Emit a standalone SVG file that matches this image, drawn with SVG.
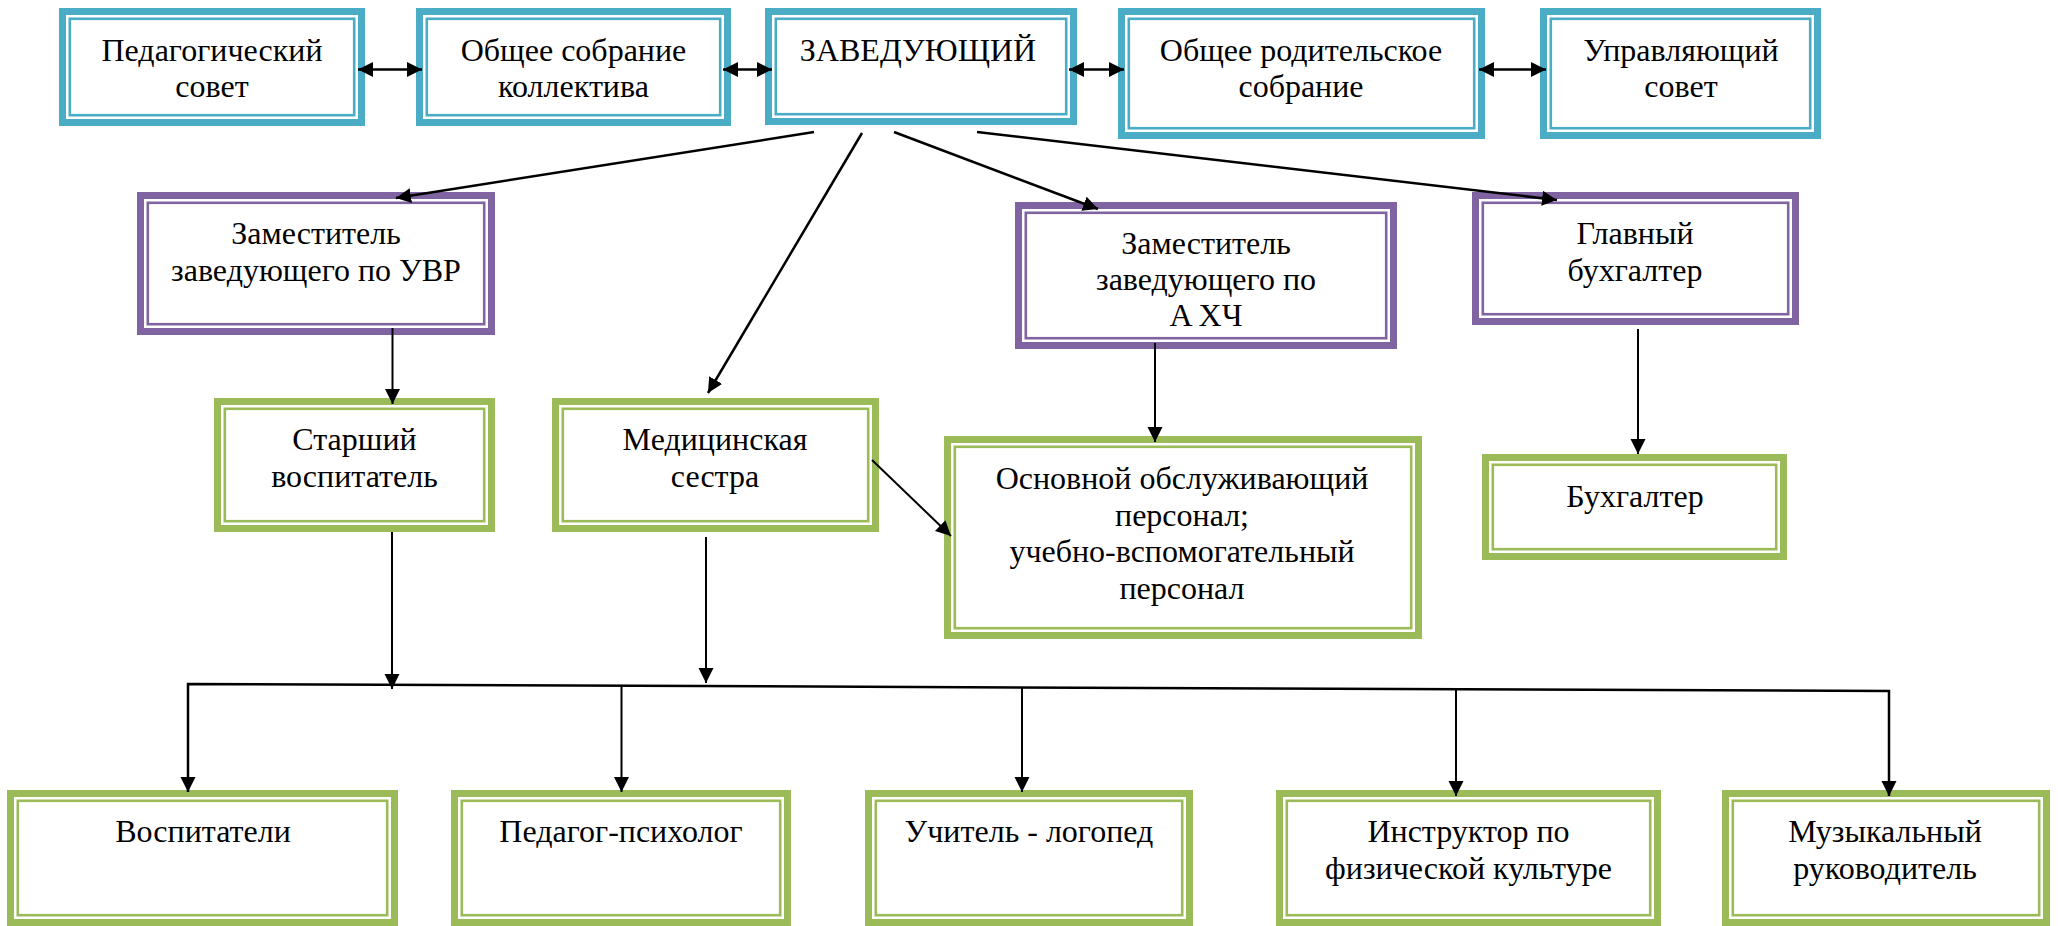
<svg xmlns="http://www.w3.org/2000/svg" width="2058" height="926" viewBox="0 0 2058 926">
<style>
.bg{fill:#fff;stroke:none}
.ob{fill:none;stroke-width:7}
.ib{fill:none;stroke-width:2.6}
.blue{stroke:#4BACC6}
.purple{stroke:#8064A2}
.green{stroke:#9BBB59}
text{font-family:"Liberation Serif","Times New Roman",serif;font-size:32px;fill:#000;text-anchor:middle}
.c{fill:none;stroke:#000;stroke-width:2.5}
.cv{fill:none;stroke:#000;stroke-width:2}
</style>
<defs>
<marker id="ah" markerUnits="userSpaceOnUse" markerWidth="16" markerHeight="16" viewBox="0 0 16 16" refX="15" refY="7.5" orient="auto-start-reverse">
<path d="M0,0 L15,7.5 L0,15 z" fill="#000"/>
</marker>
</defs>

<g id="n1">
<rect class="bg" x="59" y="8" width="306" height="118"/>
<rect class="ob blue" x="62.5" y="11.5" width="299" height="111"/>
<rect class="ib blue" x="69.8" y="18.8" width="284.4" height="96.4"/>
<text x="212" y="61">Педагогический</text>
<text x="212" y="97">совет</text>
</g>
<g id="n2">
<rect class="bg" x="416" y="8" width="315" height="118"/>
<rect class="ob blue" x="419.5" y="11.5" width="308" height="111"/>
<rect class="ib blue" x="426.8" y="18.8" width="293.4" height="96.4"/>
<text x="573.5" y="61">Общее собрание</text>
<text x="573.5" y="97">коллектива</text>
</g>
<g id="n3">
<rect class="bg" x="765" y="8" width="312" height="117"/>
<rect class="ob blue" x="768.5" y="11.5" width="305" height="110"/>
<rect class="ib blue" x="775.8" y="18.8" width="290.4" height="95.4"/>
<text x="918" y="61">ЗАВЕДУЮЩИЙ</text>
</g>
<g id="n4">
<rect class="bg" x="1118" y="8" width="367" height="131"/>
<rect class="ob blue" x="1121.5" y="11.5" width="360" height="124"/>
<rect class="ib blue" x="1128.8" y="18.8" width="345.4" height="109.4"/>
<text x="1301" y="61">Общее родительское</text>
<text x="1301" y="97">собрание</text>
</g>
<g id="n5">
<rect class="bg" x="1540" y="8" width="281" height="131"/>
<rect class="ob blue" x="1543.5" y="11.5" width="274" height="124"/>
<rect class="ib blue" x="1550.8" y="18.8" width="259.4" height="109.4"/>
<text x="1681" y="61">Управляющий</text>
<text x="1681" y="97">совет</text>
</g>

<g id="n6">
<rect class="bg" x="137" y="192" width="358" height="143"/>
<rect class="ob purple" x="140.5" y="195.5" width="351" height="136"/>
<rect class="ib purple" x="147.8" y="202.8" width="336.4" height="121.4"/>
<text x="316" y="244">Заместитель</text>
<text x="316" y="281">заведующего по УВР</text>
</g>
<g id="n7">
<rect class="bg" x="1015" y="202" width="382" height="147"/>
<rect class="ob purple" x="1018.5" y="205.5" width="375" height="140"/>
<rect class="ib purple" x="1025.8" y="212.8" width="360.4" height="125.4"/>
<text x="1206" y="254">Заместитель</text>
<text x="1206" y="290">заведующего по</text>
<text x="1206" y="326">А<tspan dx="6">ХЧ</tspan></text>
</g>
<g id="n8">
<rect class="bg" x="1472" y="192" width="327" height="133"/>
<rect class="ob purple" x="1475.5" y="195.5" width="320" height="126"/>
<rect class="ib purple" x="1482.8" y="202.8" width="305.4" height="111.4"/>
<text x="1635" y="244">Главный</text>
<text x="1635" y="281">бухгалтер</text>
</g>

<g id="n9">
<rect class="bg" x="214" y="398" width="281" height="134"/>
<rect class="ob green" x="217.5" y="401.5" width="274" height="127"/>
<rect class="ib green" x="224.8" y="408.8" width="259.4" height="112.4"/>
<text x="354.5" y="450">Старший</text>
<text x="354.5" y="487">воспитатель</text>
</g>
<g id="n10">
<rect class="bg" x="552" y="398" width="327" height="134"/>
<rect class="ob green" x="555.5" y="401.5" width="320" height="127"/>
<rect class="ib green" x="562.8" y="408.8" width="305.4" height="112.4"/>
<text x="715" y="450">Медицинская</text>
<text x="715" y="487">сестра</text>
</g>
<g id="n11">
<rect class="bg" x="944" y="436" width="478" height="203"/>
<rect class="ob green" x="947.5" y="439.5" width="471" height="196"/>
<rect class="ib green" x="954.8" y="446.8" width="456.4" height="181.4"/>
<text x="1182" y="489">Основной обслуживающий</text>
<text x="1182" y="526">персонал;</text>
<text x="1182" y="562">учебно-вспомогательный</text>
<text x="1182" y="599">персонал</text>
</g>
<g id="n12">
<rect class="bg" x="1482" y="454" width="305" height="106"/>
<rect class="ob green" x="1485.5" y="457.5" width="298" height="99"/>
<rect class="ib green" x="1492.8" y="464.8" width="283.4" height="84.4"/>
<text x="1635" y="507">Бухгалтер</text>
</g>

<g id="n13">
<rect class="bg" x="7" y="790" width="391" height="136"/>
<rect class="ob green" x="10.5" y="793.5" width="384" height="129"/>
<rect class="ib green" x="17.8" y="800.8" width="369.4" height="114.4"/>
<text x="203" y="842">Воспитатели</text>
</g>
<g id="n14">
<rect class="bg" x="451" y="790" width="340" height="136"/>
<rect class="ob green" x="454.5" y="793.5" width="333" height="129"/>
<rect class="ib green" x="461.8" y="800.8" width="318.4" height="114.4"/>
<text x="621" y="842">Педагог-психолог</text>
</g>
<g id="n15">
<rect class="bg" x="865" y="790" width="328" height="136"/>
<rect class="ob green" x="868.5" y="793.5" width="321" height="129"/>
<rect class="ib green" x="875.8" y="800.8" width="306.4" height="114.4"/>
<text x="1029" y="842">Учитель - логопед</text>
</g>
<g id="n16">
<rect class="bg" x="1276" y="790" width="385" height="136"/>
<rect class="ob green" x="1279.5" y="793.5" width="378" height="129"/>
<rect class="ib green" x="1286.8" y="800.8" width="363.4" height="114.4"/>
<text x="1468.5" y="842">Инструктор по</text>
<text x="1468.5" y="879">физической культуре</text>
</g>
<g id="n17">
<rect class="bg" x="1722" y="790" width="328" height="136"/>
<rect class="ob green" x="1725.5" y="793.5" width="321" height="129"/>
<rect class="ib green" x="1732.8" y="800.8" width="306.4" height="114.4"/>
<text x="1885" y="842">Музыкальный</text>
<text x="1885" y="879">руководитель</text>
</g>

<g id="connectors">
<line class="c" x1="358" y1="69.5" x2="422" y2="69.5" marker-start="url(#ah)" marker-end="url(#ah)"/>
<line class="c" x1="723" y1="69.5" x2="772" y2="69.5" marker-start="url(#ah)" marker-end="url(#ah)"/>
<line class="c" x1="1069" y1="69.5" x2="1124" y2="69.5" marker-start="url(#ah)" marker-end="url(#ah)"/>
<line class="c" x1="1479" y1="69.5" x2="1546" y2="69.5" marker-start="url(#ah)" marker-end="url(#ah)"/>
<line class="c" x1="814" y1="132" x2="396" y2="198" marker-end="url(#ah)"/>
<line class="c" x1="862" y1="133" x2="708" y2="393" marker-end="url(#ah)"/>
<line class="c" x1="894" y1="132" x2="1098" y2="209" marker-end="url(#ah)"/>
<line class="c" x1="977" y1="132" x2="1557" y2="200" marker-end="url(#ah)"/>
<line class="cv" x1="392.5" y1="328" x2="392.5" y2="404" marker-end="url(#ah)"/>
<line class="cv" x1="1155" y1="343" x2="1155" y2="442" marker-end="url(#ah)"/>
<line class="cv" x1="1638" y1="329" x2="1638" y2="454" marker-end="url(#ah)"/>
<line class="cv" x1="872" y1="460" x2="951" y2="536" marker-end="url(#ah)"/>
<line class="cv" x1="392" y1="532" x2="392" y2="689" marker-end="url(#ah)"/>
<line class="cv" x1="706" y1="537" x2="706" y2="683" marker-end="url(#ah)"/>
<polyline class="c" points="188,792 188,684 1889,691 1889,796" marker-start="url(#ah)" marker-end="url(#ah)"/>
<line class="cv" x1="621.5" y1="686" x2="621.5" y2="792" marker-end="url(#ah)"/>
<line class="cv" x1="1022" y1="688" x2="1022" y2="792" marker-end="url(#ah)"/>
<line class="cv" x1="1456" y1="689" x2="1456" y2="796" marker-end="url(#ah)"/>
</g>
</svg>
